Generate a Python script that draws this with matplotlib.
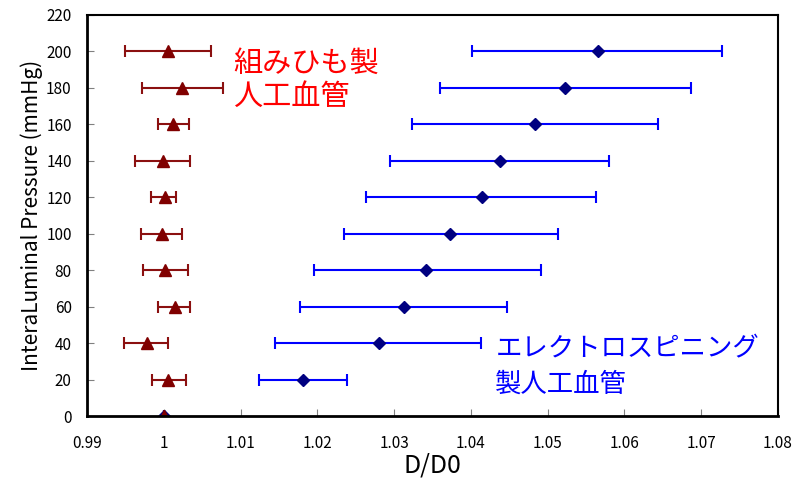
import numpy as np
import matplotlib.pyplot as plt

plt.rcParams['font.family'] = ['Liberation Sans Narrow', 'Noto Sans CJK JP', 'DejaVu Sans']

pressure = [0, 20, 40, 60, 80, 100, 120, 140, 160, 180, 200]

# braided graft: mean D/D0 and error bar ends
braid_mean = [1.0000, 1.0006, 0.9978, 1.0015, 1.0002, 0.9998, 1.0002, 0.9999, 1.0012, 1.0024, 1.0006]
braid_lo = [1.0000, 0.9985, 0.9948, 0.9992, 0.9973, 0.9970, 0.9984, 0.9962, 0.9992, 0.9972, 0.9950]
braid_hi = [1.0000, 1.0029, 1.0006, 1.0034, 1.0032, 1.0024, 1.0016, 1.0034, 1.0033, 1.0077, 1.0062]

# electrospun graft
es_mean = [1.0000, 1.0181, 1.0280, 1.0313, 1.0342, 1.0373, 1.0414, 1.0438, 1.0484, 1.0522, 1.0566]
es_lo = [1.0000, 1.0124, 1.0145, 1.0178, 1.0196, 1.0235, 1.0264, 1.0295, 1.0323, 1.0360, 1.0402]
es_hi = [1.0000, 1.0239, 1.0413, 1.0447, 1.0491, 1.0514, 1.0563, 1.0580, 1.0644, 1.0687, 1.0727]

fig = plt.figure(figsize=(7.93, 4.83), dpi=100)
ax = fig.add_axes([0.1097, 0.1387, 0.8714, 0.8303])

def xerr(mean, lo, hi):
    mean = np.array(mean)
    return [mean - np.array(lo), np.array(hi) - mean]

ax.errorbar(es_mean, pressure, xerr=xerr(es_mean, es_lo, es_hi), fmt='D',
            color='#000080', ecolor='#0000FF', markersize=6, elinewidth=1.5,
            capsize=4, capthick=1.5)
ax.errorbar(braid_mean, pressure, xerr=xerr(braid_mean, braid_lo, braid_hi), fmt='^',
            color='#800000', ecolor='#8B1010', markersize=8, elinewidth=1.5,
            capsize=4, capthick=1.5)

ax.set_xlim(0.99, 1.08)
ax.set_ylim(0, 220)
ax.set_xticks(np.arange(0.99, 1.0801, 0.01))
ax.set_xticklabels(['0.99', '1', '1.01', '1.02', '1.03', '1.04', '1.05', '1.06', '1.07', '1.08'])
ax.set_yticks(range(0, 221, 20))
ax.tick_params(direction='in', length=5, color='#808080', labelsize=11)
ax.tick_params(axis='y', pad=11)
ax.tick_params(axis='x', pad=14)
for s in ax.spines.values():
    s.set_linewidth(1.5)
ax.spines['left'].set_linewidth(2)
ax.spines['bottom'].set_linewidth(2)

ax.set_xlabel('D/D0', fontsize=18, labelpad=0)
ax.set_ylabel('InteraLuminal Pressure (mmHg)', fontsize=15, labelpad=2)

jp = ['Noto Sans CJK JP', 'DejaVu Sans']
ax.text(1.0090, 184, '組みひも製\n人工血管', color='#FF0000', fontsize=21,
        family=jp, linespacing=1.15, va='center', ha='left')
ax.text(1.0432, 27, 'エレクトロスピニング\n製人工血管', color='#0000FF', fontsize=19,
        family=jp, linespacing=1.4, va='center', ha='left')

fig.savefig('out.png', dpi=100)
